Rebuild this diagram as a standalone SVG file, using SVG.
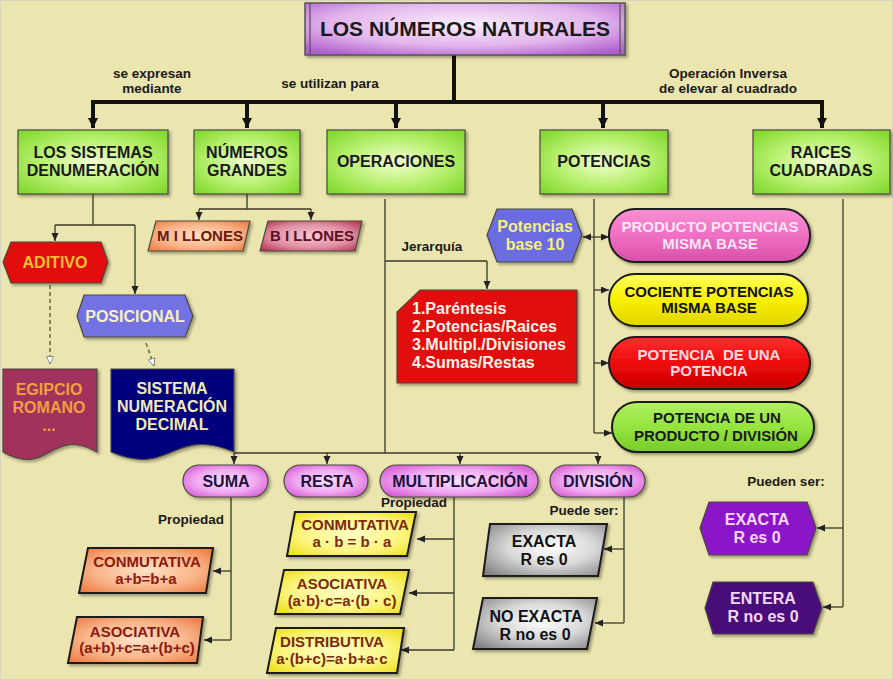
<svg xmlns="http://www.w3.org/2000/svg" width="893" height="680" viewBox="0 0 893 680">
<defs>
<radialGradient id="gGreen" cx="50%" cy="50%" r="65%"><stop offset="0" stop-color="#F2FFD0"/><stop offset="0.55" stop-color="#B8F070"/><stop offset="1" stop-color="#84DA30"/></radialGradient>
<radialGradient id="gTitle" cx="50%" cy="40%" r="70%"><stop offset="0" stop-color="#FAEEFC"/><stop offset="0.6" stop-color="#E2B4EC"/><stop offset="1" stop-color="#B060CC"/></radialGradient>
<radialGradient id="gPill" cx="50%" cy="50%" r="60%"><stop offset="0" stop-color="#FBE0FB"/><stop offset="0.6" stop-color="#F0A8F0"/><stop offset="1" stop-color="#D860D8"/></radialGradient>
<radialGradient id="gOrange" cx="50%" cy="50%" r="65%"><stop offset="0" stop-color="#FFE2C6"/><stop offset="0.6" stop-color="#F8B488"/><stop offset="1" stop-color="#EE7E48"/></radialGradient>
<radialGradient id="gMaroon" cx="50%" cy="50%" r="65%"><stop offset="0" stop-color="#F8C8D4"/><stop offset="0.6" stop-color="#E090A4"/><stop offset="1" stop-color="#B83858"/></radialGradient>
<radialGradient id="gYellow" cx="50%" cy="50%" r="65%"><stop offset="0" stop-color="#FFFFC4"/><stop offset="0.6" stop-color="#FBF580"/><stop offset="1" stop-color="#EEE020"/></radialGradient>
<radialGradient id="gGray" cx="55%" cy="45%" r="70%"><stop offset="0" stop-color="#FFFFFF"/><stop offset="0.5" stop-color="#D8D8D8"/><stop offset="1" stop-color="#848484"/></radialGradient>
<linearGradient id="gPink" x1="0" y1="0" x2="0" y2="1"><stop offset="0" stop-color="#F890D4"/><stop offset="0.5" stop-color="#F070C4"/><stop offset="1" stop-color="#D850A8"/></linearGradient>
<linearGradient id="gYel2" x1="0" y1="0" x2="0" y2="1"><stop offset="0" stop-color="#FFFF60"/><stop offset="0.5" stop-color="#F8F000"/><stop offset="1" stop-color="#E0D400"/></linearGradient>
<linearGradient id="gRed2" x1="0" y1="0" x2="0" y2="1"><stop offset="0" stop-color="#FF3030"/><stop offset="0.5" stop-color="#EE0A0A"/><stop offset="1" stop-color="#C80000"/></linearGradient>
<linearGradient id="gGrn2" x1="0" y1="0" x2="0" y2="1"><stop offset="0" stop-color="#B0F060"/><stop offset="0.5" stop-color="#96E440"/><stop offset="1" stop-color="#78CC28"/></linearGradient>
<filter id="sh" x="-10%" y="-10%" width="125%" height="130%"><feDropShadow dx="2" dy="2" stdDeviation="1.5" flood-color="#000" flood-opacity="0.35"/></filter>
<marker id="aThick" markerUnits="userSpaceOnUse" markerWidth="10" markerHeight="12" refX="10" refY="5" orient="auto"><path d="M0,0 L10,5 L0,10 Z" fill="#111"/></marker>
<marker id="aThin" markerUnits="userSpaceOnUse" markerWidth="8" markerHeight="8" refX="8" refY="3.5" orient="auto-start-reverse"><path d="M0,0 L8,3.5 L0,7 Z" fill="#222"/></marker>
<marker id="aOpen" markerUnits="userSpaceOnUse" markerWidth="9" markerHeight="9" refX="8" refY="4" orient="auto"><path d="M0.5,0.5 L8,4 L0.5,7.5 Z" fill="#fff" stroke="#777" stroke-width="0.8"/></marker>
</defs>
<style>
text{font-family:"Liberation Sans",Arial,sans-serif;font-weight:bold;text-anchor:middle}
.t16{font-size:16px}
.t15{font-size:15px}
.lbl{font-size:13.5px;fill:#1a1a1a}
.box{stroke:#4a4a3a;stroke-width:1.2}
.dk{stroke:#1a1a1a;stroke-width:2}
.thick{fill:none;stroke:#111;stroke-width:4}
.thin{fill:none;stroke:#3a3a2a;stroke-width:1.3}
.dash{fill:none;stroke:#7a7a5a;stroke-width:1.8;stroke-dasharray:4 3}
</style>
<rect x="0" y="0" width="893" height="680" fill="#EBE5B0"/>
<rect x="0.5" y="0.5" width="892" height="679" fill="none" stroke="#d8d4c0" stroke-width="1"/>

<g id="connectors">
<path class="thick" d="M454,55 V102 M91,102 H824"/>
<path class="thick" d="M93,102 V128" marker-end="url(#aThick)"/>
<path class="thick" d="M247,102 V128" marker-end="url(#aThick)"/>
<path class="thick" d="M396,102 V128" marker-end="url(#aThick)"/>
<path class="thick" d="M603,102 V128" marker-end="url(#aThick)"/>
<path class="thick" d="M822,102 V128" marker-end="url(#aThick)"/>
<path class="thin" d="M93,194 V225 M55,225 H135"/>
<path class="thin" d="M55,225 V241" marker-end="url(#aThin)"/>
<path class="thin" d="M135,225 V294" marker-end="url(#aThin)"/>
<path class="dash" d="M50,285 V364" marker-end="url(#aOpen)"/>
<path class="dash" d="M146,343 L154,366" marker-end="url(#aOpen)"/>
<path class="thin" d="M247,194 V209 M199,209 H311"/>
<path class="thin" d="M199,209 V220" marker-end="url(#aThin)"/>
<path class="thin" d="M311,209 V220" marker-end="url(#aThin)"/>
<path class="thin" d="M385,199 V453 M385,261 H487"/>
<path class="thin" d="M487,261 V289" marker-end="url(#aThin)"/>
<path class="thin" d="M234,453 H598"/>
<path class="thin" d="M234,453 V464" marker-end="url(#aThin)"/>
<path class="thin" d="M327,453 V464" marker-end="url(#aThin)"/>
<path class="thin" d="M460,453 V464" marker-end="url(#aThin)"/>
<path class="thin" d="M598,453 V464" marker-end="url(#aThin)"/>
<path class="thin" d="M594,199 V433"/>
<path class="thin" d="M583,237 H609" marker-start="url(#aThin)" marker-end="url(#aThin)"/>
<path class="thin" d="M594,290 H609" marker-end="url(#aThin)"/>
<path class="thin" d="M594,363 H609" marker-end="url(#aThin)"/>
<path class="thin" d="M594,433 H612" marker-end="url(#aThin)"/>
<path class="thin" d="M843,199 V607"/>
<path class="thin" d="M843,528 H817" marker-end="url(#aThin)"/>
<path class="thin" d="M843,607 H823" marker-end="url(#aThin)"/>
<path class="thin" d="M231,497 V640"/>
<path class="thin" d="M231,571 H213" marker-end="url(#aThin)"/>
<path class="thin" d="M231,640 H204" marker-end="url(#aThin)"/>
<path class="thin" d="M454,497 V650"/>
<path class="thin" d="M454,539 H417" marker-end="url(#aThin)"/>
<path class="thin" d="M454,593 H409" marker-end="url(#aThin)"/>
<path class="thin" d="M454,650 H401" marker-end="url(#aThin)"/>
<path class="thin" d="M624,497 V623"/>
<path class="thin" d="M624,549 H604" marker-end="url(#aThin)"/>
<path class="thin" d="M624,623 H595" marker-end="url(#aThin)"/>
</g>

<g id="labels">
<text class="lbl" x="152" y="78">se expresan</text>
<text class="lbl" x="152" y="93">mediante</text>
<text class="lbl" x="330" y="88">se utilizan para</text>
<text class="lbl" x="728" y="78">Operación Inversa</text>
<text class="lbl" x="728" y="93">de elevar al cuadrado</text>
<text class="lbl" x="432" y="251">Jerarquía</text>
<text class="lbl" x="191" y="524">Propiedad</text>
<text class="lbl" x="414" y="507">Propiedad</text>
<text class="lbl" x="584" y="515">Puede ser:</text>
<text class="lbl" x="786" y="486">Pueden ser:</text>
</g>

<g id="title">
<rect x="305" y="3" width="320" height="52" fill="url(#gTitle)" stroke="#555" stroke-width="1.5" filter="url(#sh)"/>
<path d="M310,3 V55 M620,3 V55" stroke="#555" stroke-width="1.2"/>
<text x="465" y="36" style="font-size:21px" fill="#1a1a1a">LOS NÚMEROS NATURALES</text>
</g>

<g id="n-sistemas">
<rect class="box" x="18" y="130" width="150" height="64" fill="url(#gGreen)" filter="url(#sh)"/>
<text class="t16" x="93" y="158" fill="#1a1a1a">LOS SISTEMAS</text>
<text class="t16" x="93" y="176" fill="#1a1a1a">DENUMERACIÓN</text>
</g>
<g id="n-grandes">
<rect class="box" x="194" y="130" width="106" height="64" fill="url(#gGreen)" filter="url(#sh)"/>
<text class="t16" x="247" y="158" fill="#1a1a1a">NÚMEROS</text>
<text class="t16" x="247" y="176" fill="#1a1a1a">GRANDES</text>
</g>
<g id="n-operaciones">
<rect class="box" x="327" y="130" width="138" height="64" fill="url(#gGreen)" filter="url(#sh)"/>
<text class="t16" x="396" y="167" fill="#1a1a1a">OPERACIONES</text>
</g>
<g id="n-potencias">
<rect class="box" x="540" y="130" width="128" height="64" fill="url(#gGreen)" filter="url(#sh)"/>
<text class="t16" x="604" y="167" fill="#1a1a1a">POTENCIAS</text>
</g>
<g id="n-raices">
<rect class="box" x="753" y="130" width="137" height="64" fill="url(#gGreen)" filter="url(#sh)"/>
<text class="t16" x="821" y="158" fill="#1a1a1a">RAICES</text>
<text class="t16" x="821" y="176" fill="#1a1a1a">CUADRADAS</text>
</g>

<g id="n-aditivo">
<polygon class="box" points="3,262 11,242 101,242 108,262 101,283 11,283" fill="#E20808" filter="url(#sh)"/>
<text class="t16" x="55" y="268" fill="#F8C030">ADITIVO</text>
</g>
<g id="n-posicional">
<polygon class="box" points="77,316 84,295 185,295 193,316 185,337 84,337" fill="#7272E2" filter="url(#sh)"/>
<text class="t16" x="135" y="322" fill="#F8F0C0">POSICIONAL</text>
</g>
<g id="n-egipcio">
<path class="box" d="M3,369 H97 V452 C50,426 50,478 3,452 Z" fill="#A0305C" filter="url(#sh)"/>
<text class="t16" x="49" y="395" fill="#F0A040">EGIPCIO</text>
<text class="t16" x="49" y="413" fill="#F0A040">ROMANO</text>
<text class="t16" x="49" y="431" fill="#F0A040">...</text>
</g>
<g id="n-decimal">
<path class="box" d="M111,369 H234 V452 C172,426 172,478 111,452 Z" fill="#00007C" filter="url(#sh)"/>
<text class="t16" x="172" y="394" fill="#F0E8B8">SISTEMA</text>
<text class="t16" x="172" y="412" fill="#F0E8B8">NUMERACIÓN</text>
<text class="t16" x="172" y="430" fill="#F0E8B8">DECIMAL</text>
</g>

<g id="n-millones">
<polygon class="box" points="156,221 250,221 243,251 148,251" fill="url(#gOrange)" stroke-width="2" filter="url(#sh)"/>
<text class="t15" x="200" y="241" fill="#6A1A10">M I LLONES</text>
</g>
<g id="n-billones">
<polygon class="box" points="268,221 362,221 355,251 260,251" fill="url(#gMaroon)" stroke-width="2" filter="url(#sh)"/>
<text class="t15" x="312" y="241" fill="#5A1020">B I LLONES</text>
</g>

<g id="n-jerarquia">
<path class="box" d="M420,290 H577 V383 H397 V312 Z" fill="#E20A0A" stroke-width="2" filter="url(#sh)"/>
<g fill="#FFF2E6">
<text class="t16" x="412" y="314" style="text-anchor:start">1.Paréntesis</text>
<text class="t16" x="412" y="332" style="text-anchor:start">2.Potencias/Raices</text>
<text class="t16" x="412" y="350" style="text-anchor:start">3.Multipl./Divisiones</text>
<text class="t16" x="412" y="368" style="text-anchor:start">4.Sumas/Restas</text>
</g>
</g>

<g id="n-base10">
<polygon class="box" points="487,235 497,209 572,209 582,235 572,262 497,262" fill="#6C6CE2" filter="url(#sh)"/>
<text class="t16" x="535" y="232" fill="#F4F080">Potencias</text>
<text class="t16" x="535" y="250" fill="#F4F080">base 10</text>
</g>

<g id="n-producto">
<rect class="dk" x="609" y="209" width="201" height="53" rx="26" fill="url(#gPink)" filter="url(#sh)"/>
<text class="t15" x="710" y="232" fill="#FDE6F6">PRODUCTO POTENCIAS</text>
<text class="t15" x="710" y="249" fill="#FDE6F6">MISMA BASE</text>
</g>
<g id="n-cociente">
<rect class="dk" x="609" y="274" width="199" height="52" rx="26" fill="url(#gYel2)" filter="url(#sh)"/>
<text class="t15" x="709" y="297" fill="#111">COCIENTE POTENCIAS</text>
<text class="t15" x="709" y="313" fill="#111">MISMA BASE</text>
</g>
<g id="n-potpot">
<rect class="dk" x="609" y="337" width="201" height="52" rx="26" fill="url(#gRed2)" filter="url(#sh)"/>
<text class="t15" x="709" y="360" fill="#FFDCE2" style="white-space:pre">POTENCIA  DE UNA</text>
<text class="t15" x="709" y="376" fill="#FFDCE2">POTENCIA</text>
</g>
<g id="n-potprod">
<rect class="dk" x="612" y="402" width="202" height="50" rx="25" fill="url(#gGrn2)" filter="url(#sh)"/>
<text class="t15" x="717" y="423" fill="#1a1a1a">POTENCIA DE UN</text>
<text class="t15" x="716" y="441" fill="#1a1a1a">PRODUCTO / DIVISIÓN</text>
</g>

<g id="n-exacta-r">
<polygon class="box" points="700,528 709,502 807,502 816,528 807,555 709,555" fill="#8A14C8" filter="url(#sh)"/>
<text class="t16" x="757" y="525" fill="#F8D8F8">EXACTA</text>
<text class="t16" x="757" y="543" fill="#F8D8F8">R es 0</text>
</g>
<g id="n-entera">
<polygon class="box" points="705,608 713,582 813,582 822,608 813,634 713,634" fill="#4A0A7A" filter="url(#sh)"/>
<text class="t16" x="763" y="604" fill="#F0D8F8">ENTERA</text>
<text class="t16" x="763" y="622" fill="#F0D8F8">R no es 0</text>
</g>

<g id="n-suma">
<rect class="box" x="183" y="465" width="85" height="32" rx="16" fill="url(#gPill)" filter="url(#sh)"/>
<text class="t16" x="226" y="487" fill="#1C1040">SUMA</text>
</g>
<g id="n-resta">
<rect class="box" x="284" y="465" width="84" height="32" rx="16" fill="url(#gPill)" filter="url(#sh)"/>
<text class="t16" x="327" y="487" fill="#1C1040">RESTA</text>
</g>
<g id="n-mult">
<rect class="box" x="380" y="465" width="158" height="32" rx="16" fill="url(#gPill)" filter="url(#sh)"/>
<text class="t16" x="460" y="487" fill="#1C1040">MULTIPLICACIÓN</text>
</g>
<g id="n-division">
<rect class="box" x="550" y="465" width="95" height="32" rx="16" fill="url(#gPill)" filter="url(#sh)"/>
<text class="t16" x="598" y="487" fill="#1C1040">DIVISIÓN</text>
</g>

<g id="n-s-conm">
<polygon class="dk" points="88,548 213,548 206,593 79,593" fill="url(#gOrange)" filter="url(#sh)"/>
<text class="t15" x="147" y="567" fill="#8B1A10">CONMUTATIVA</text>
<text class="t15" x="146" y="584" fill="#8B1A10">a+b=b+a</text>
</g>
<g id="n-s-asoc">
<polygon class="dk" points="77,617 203,617 197,663 68,663" fill="url(#gOrange)" filter="url(#sh)"/>
<text class="t15" x="135" y="637" fill="#8B1A10">ASOCIATIVA</text>
<text class="t15" x="137" y="653" fill="#8B1A10">(a+b)+c=a+(b+c)</text>
</g>
<g id="n-m-conm">
<polygon class="dk" points="295,512 416,512 407,556 287,556" fill="url(#gYellow)" filter="url(#sh)"/>
<text class="t15" x="355" y="530" fill="#7A2A10">CONMUTATIVA</text>
<text class="t15" x="352" y="547" fill="#7A2A10">a · b = b · a</text>
</g>
<g id="n-m-asoc">
<polygon class="dk" points="284,570 409,570 400,614 275,614" fill="url(#gYellow)" filter="url(#sh)"/>
<text class="t15" x="342" y="589" fill="#7A2A10">ASOCIATIVA</text>
<text class="t15" x="342" y="606" fill="#7A2A10">(a·b)·c=a·(b · c)</text>
</g>
<g id="n-m-dist">
<polygon class="dk" points="276,628 404,628 397,673 267,673" fill="url(#gYellow)" filter="url(#sh)"/>
<text class="t15" x="332" y="647" fill="#7A2A10">DISTRIBUTIVA</text>
<text class="t15" x="332" y="664" fill="#7A2A10">a·(b+c)=a·b+a·c</text>
</g>
<g id="n-d-exacta">
<polygon class="dk" points="490,524 607,524 598,576 483,576" fill="url(#gGray)" filter="url(#sh)"/>
<text class="t16" x="544" y="547" fill="#111">EXACTA</text>
<text class="t16" x="544" y="565" fill="#111">R es 0</text>
</g>
<g id="n-d-noexacta">
<polygon class="dk" points="483,598 597,598 587,649 473,649" fill="url(#gGray)" filter="url(#sh)"/>
<text class="t16" x="536" y="622" fill="#111">NO EXACTA</text>
<text class="t16" x="535" y="640" fill="#111">R no es 0</text>
</g>
</svg>
